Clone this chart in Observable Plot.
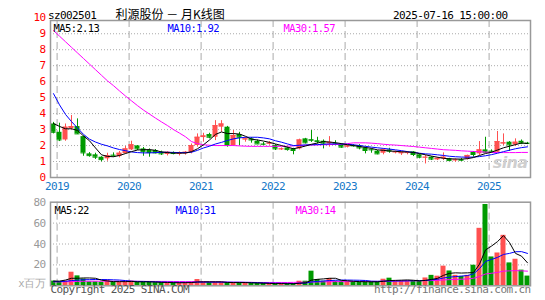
<!DOCTYPE html>
<html><head><meta charset="utf-8">
<script src="https://cdn.jsdelivr.net/npm/d3@7"></script>
<script src="https://cdn.jsdelivr.net/npm/@observablehq/plot@0.6"></script>
<style>
body{margin:0;background:#fff;}
#wrap{position:relative;width:545px;height:300px;overflow:hidden;background:#fff;}
#main,#vol{position:absolute;left:0;}
#main{top:0}
#vol{top:192px}
</style></head><body><div id="wrap"><div id="main"></div><div id="vol"></div></div>
<script>
// ---- data (monthly, Dec 2018 .. Jul 2025) ----
const code = "sz002501";
const title = "利源股份 － 月K线图";
const stamp = "2025-07-16 15:00:00";
const months = d3.utcMonths(new Date(Date.UTC(2018, 11, 1)), new Date(Date.UTC(2025, 7, 1))).map(d3.utcFormat("%Y-%m"));
const open = [3.35,2.83,2.35,3.06,3.19,2.56,1.48,1.42,1.27,1.17,1.40,1.31,1.50,1.73,1.98,1.79,1.69,1.69,1.58,1.44,
  1.54,1.44,1.48,1.58,2.00,2.50,2.69,2.52,3.15,3.15,2.00,2.69,2.35,2.42,2.27,2.10,2.10,2.00,1.75,1.85,
  1.79,1.79,2.42,2.38,2.30,2.27,2.10,2.12,2.06,1.90,2.00,2.00,1.85,1.75,1.65,1.52,1.73,1.56,1.48,1.54,
  1.60,1.42,1.23,1.27,1.10,1.17,1.17,1.06,1.12,1.17,1.58,1.48,1.73,1.65,1.58,2.10,2.21,2.04,2.27,2.15];
const close = [2.83,2.35,3.15,3.19,2.73,1.54,1.37,1.27,1.12,1.37,1.35,1.52,1.79,2.05,1.79,1.62,1.56,1.54,1.48,1.58,
  1.50,1.54,1.58,2.00,2.52,2.60,2.52,3.25,3.35,2.00,2.63,2.52,2.42,2.35,2.10,2.08,2.15,1.79,1.79,1.75,
  1.69,2.35,2.17,2.33,2.25,2.15,2.20,2.08,1.90,1.98,1.98,1.85,1.69,1.73,1.48,1.73,1.65,1.60,1.58,1.56,
  1.44,1.27,1.27,1.15,1.20,1.27,1.06,1.10,1.08,1.38,1.44,1.73,1.58,1.60,2.25,2.17,2.04,2.21,2.15,2.13];
const high = [3.45,3.40,3.35,3.88,3.67,2.60,1.56,1.52,1.30,1.52,1.54,1.63,1.94,2.27,2.00,1.88,1.79,1.75,1.65,1.62,
  1.60,1.60,1.63,2.10,2.73,2.77,2.77,3.56,3.56,3.20,2.94,2.83,2.50,2.50,2.35,2.19,2.25,2.06,1.85,1.90,
  1.83,2.40,2.45,2.94,2.52,2.35,2.56,2.30,2.10,2.00,2.06,2.06,1.90,1.79,1.69,1.79,1.83,1.65,1.60,1.62,
  1.62,1.44,1.38,1.30,1.25,1.54,1.20,1.17,1.20,1.40,1.62,2.25,2.52,1.73,2.88,2.73,2.25,2.42,2.35,2.20];
const low = [2.73,2.25,2.27,2.98,2.69,1.33,1.27,1.13,0.98,1.02,1.27,1.23,1.46,1.69,1.69,1.33,1.27,1.48,1.38,1.35,
  1.42,1.35,1.40,1.48,1.90,2.21,2.42,2.31,2.83,1.90,1.98,2.00,2.21,2.15,2.08,2.00,2.02,1.69,1.69,1.65,
  1.42,1.73,2.10,2.20,2.10,1.79,1.90,2.05,1.83,1.85,1.90,1.73,1.48,1.52,1.42,1.42,1.52,1.48,1.38,1.42,
  1.31,1.17,0.85,1.06,1.06,1.06,1.02,0.96,1.00,1.10,1.27,1.38,1.52,1.54,1.56,2.00,1.63,1.94,2.06,2.06];
const ma5 = [3.38,3.20,3.05,3.05,2.95,2.60,2.30,1.85,1.42,1.32,1.30,1.38,1.50,1.62,1.72,1.74,1.75,1.70,1.60,1.56,
  1.53,1.53,1.53,1.62,1.80,2.05,2.35,2.70,2.85,2.75,2.75,2.72,2.58,2.40,2.35,2.28,2.20,2.10,2.00,1.90,
  1.80,1.88,1.97,2.08,2.16,2.25,2.22,2.18,2.12,2.05,2.00,1.94,1.88,1.82,1.73,1.70,1.66,1.64,1.61,1.60,
  1.57,1.50,1.42,1.34,1.27,1.20,1.17,1.16,1.15,1.18,1.25,1.38,1.50,1.58,1.72,1.86,1.96,2.06,2.16,2.13];
const ma10 = [5.25,4.55,3.95,3.50,3.10,2.70,2.40,2.22,2.08,1.98,1.85,1.75,1.68,1.60,1.56,1.54,1.54,1.56,1.58,1.58,
  1.57,1.56,1.56,1.58,1.70,1.85,1.96,2.10,2.20,2.32,2.42,2.48,2.52,2.52,2.52,2.48,2.42,2.30,2.21,2.10,
  2.00,2.02,2.04,2.05,2.06,2.08,2.10,2.10,2.10,2.08,2.05,2.00,1.95,1.90,1.86,1.82,1.78,1.73,1.68,1.62,
  1.57,1.52,1.48,1.46,1.42,1.38,1.33,1.30,1.28,1.27,1.28,1.31,1.36,1.43,1.52,1.62,1.71,1.80,1.87,1.92];
const ma30 = [9.20,8.85,8.50,8.15,7.80,7.45,7.10,6.75,6.40,6.05,5.75,5.42,5.10,4.80,4.50,4.22,3.97,3.72,3.48,3.25,
  3.00,2.78,2.55,2.25,2.12,2.05,2.02,2.00,2.00,2.00,2.00,1.98,1.96,1.95,1.95,1.95,1.95,1.95,1.95,1.96,
  1.98,2.00,2.02,2.03,2.04,2.05,2.06,2.07,2.08,2.12,2.17,2.17,2.17,2.15,2.12,2.08,2.05,2.03,2.00,1.97,
  1.94,1.90,1.86,1.82,1.78,1.74,1.72,1.70,1.67,1.65,1.63,1.61,1.59,1.57,1.56,1.56,1.56,1.56,1.57,1.57];
const volume = [4.5,3.5,4.5,13,9.5,6.5,3.8,3.8,3.5,5.5,3.5,3.5,3.8,4.5,3.5,3.5,3.5,3.0,3.0,2.8,
  2.8,3.0,3.2,3.5,6.0,3.5,3.0,3.2,3.2,3.0,3.0,3.0,3.0,2.2,2.2,2.2,2.0,2.0,2.0,2.0,
  2.2,4.4,4.4,14,6.0,4.4,7.0,4.4,4.4,3.8,3.8,3.8,3.8,3.8,3.8,6.3,7.3,4.8,4.8,4.8,
  4.4,4.4,7.5,10,9.2,18.8,14.2,10,9.0,10,19.7,55,77.8,27.6,31.4,48.3,21.9,25.4,15,9.3];
const vma5 = [4.5,4.5,5.5,7.2,7.2,7.5,7.5,7.2,5.4,4.6,4.0,4.0,4.0,4.2,3.8,3.8,3.8,3.6,3.3,3.2,
  3.0,2.9,3.0,3.1,3.7,3.8,3.8,3.8,3.8,3.2,3.1,3.1,3.1,2.8,2.7,2.5,2.3,2.1,2.1,2.0,
  2.0,2.5,2.9,5.4,6.2,6.6,7.2,7.2,5.2,4.8,4.3,4.0,3.9,3.8,3.8,4.3,5.0,5.2,5.4,5.6,
  5.3,4.7,5.2,6.1,7.1,10,11.9,12.4,12.2,12.4,12.6,20.7,34.3,38,42.3,48,41.4,31,28.4,22];
const vma10 = [4.0,4.0,4.3,5.0,5.4,5.8,5.9,6.0,6.0,5.9,5.7,5.5,5.0,4.4,4.2,4.2,4.0,3.8,3.6,3.5,
  3.4,3.3,3.3,3.3,3.5,3.5,3.5,3.5,3.5,3.5,3.4,3.4,3.3,3.2,3.0,2.8,2.6,2.5,2.4,2.3,
  2.2,2.4,2.6,3.7,4.2,4.6,5.0,5.3,5.5,5.5,5.4,5.3,5.1,4.4,4.3,4.5,4.5,4.6,4.6,4.7,
  4.9,5.0,5.1,5.7,6.2,7.5,8.3,8.8,9.3,9.8,11.4,16.4,23.3,25.2,27.2,30.0,31.0,32.6,32.7,31];
const vma30 = [3.8,3.8,3.9,4.0,4.2,4.3,4.4,4.4,4.4,4.4,4.4,4.4,4.4,4.3,4.3,4.2,4.2,4.2,4.2,4.2,
  4.1,4.1,4.0,4.0,4.0,3.9,3.9,3.8,3.6,3.5,3.4,3.4,3.3,3.3,3.2,3.2,3.2,3.2,3.2,3.2,
  3.3,3.4,3.4,3.6,3.7,3.8,3.9,4.0,4.0,4.0,4.1,4.1,4.1,4.2,4.2,4.3,4.4,4.5,4.6,4.7,
  4.8,4.8,4.9,5.0,5.2,5.6,5.9,6.1,6.3,6.6,7.2,8.9,11.3,12.0,12.8,14.0,14.3,14.5,14.3,14];
const priceTicks = [0,1,2,3,4,5,6,7,8,9,10];
const volTicks = [20,40,60,80];
const priceLegend = ["MA5:2.13","MA10:1.92","MA30:1.57"];
const volLegend = ["MA5:22","MA10:31","MA30:14"];
const volUnit = "x百万";
const copyright = "Copyright 2025 SINA.COM";
const site = "http://finance.sina.com.cn";

// ---- build ----
const RED = "#ff5050", GREEN = "#009a00", BLUE = "#0000ff", MAG = "#ff00ff";
const rows = months.map((m, i) => ({m, o: open[i], c: close[i], h: high[i], l: low[i],
  ma5: ma5[i], ma10: ma10[i], ma30: ma30[i], v: volume[i], vma5: vma5[i], vma10: vma10[i], vma30: vma30[i]}));
const col = d => d.c >= d.o ? RED : GREEN;
const jan = months.filter(m => m.endsWith("-01"));
const MONO = "DejaVu Sans Mono";
const baseStyle = {fontFamily: MONO, fontSize: "10.5px", letterSpacing: "-0.6px", background: "transparent", overflow: "visible"};
const GRID = "#aaa";

const main = Plot.plot({
  width: 545, height: 192,
  marginLeft: 50, marginRight: 15, marginTop: 20, marginBottom: 15,
  style: baseStyle,
  x: {type: "band", domain: months, paddingInner: 0, paddingOuter: 0, axis: null},
  y: {domain: [0, 9.83], axis: null},
  color: {type: "identity"},
  marks: [
    Plot.ruleY(d3.range(1, 10), {stroke: GRID, strokeDasharray: "1,2"}),
    Plot.ruleX(jan, {x: d => d, dx: -2.4, stroke: GRID, strokeDasharray: "7,4"}),
    Plot.ruleX(rows, {x: "m", y1: "l", y2: "h", stroke: col}),
    Plot.barY(rows, {x: "m", y1: "o", y2: "c", fill: col, insetLeft: 0.5, insetRight: 0.5}),
    Plot.tickY(rows, {x: "m", y: "c", stroke: col, insetLeft: 0.5, insetRight: 0.5}),
    Plot.text(["sina"], {frameAnchor: "bottom-right", dx: -3, dy: -10, textAnchor: "end", fontFamily: "DejaVu Sans", fontWeight: "bold", fontStyle: "italic", fontSize: 16, fill: "#cfcfcf"}),
    Plot.lineY(rows, {x: "m", y: "ma30", stroke: MAG, strokeWidth: 1}),
    Plot.lineY(rows, {x: "m", y: "ma10", stroke: BLUE, strokeWidth: 1}),
    Plot.lineY(rows, {x: "m", y: "ma5", stroke: "#000", strokeWidth: 1}),
    Plot.frame({stroke: "#999", strokeWidth: 1.5}),
    Plot.axisY(priceTicks, {tickSize: 0, tickPadding: 5, fill: "#f00", fontSize: 11}),
    Plot.text(jan, {x: d => d, y: 0, dx: -2.4, dy: 9, text: d => d.slice(0, 4), fill: "#1478c8", fontSize: 11}),
    Plot.text([priceLegend[0]], {frameAnchor: "top-left", dx: 3, dy: 4, textAnchor: "start", fill: "#000"}),
    Plot.text([priceLegend[1]], {frameAnchor: "top-left", dx: 117, dy: 4, textAnchor: "start", fill: BLUE}),
    Plot.text([priceLegend[2]], {frameAnchor: "top-left", dx: 233, dy: 4, textAnchor: "start", fill: MAG}),
    Plot.text([code], {frameAnchor: "top-left", dx: -2.5, dy: -9, textAnchor: "start", fill: "#000", fontSize: 11}),
    Plot.text([title], {frameAnchor: "top-left", dx: 65, dy: -10, textAnchor: "start", fill: "#000", fontSize: 12, fontFamily: "Noto Sans CJK SC"}),
    Plot.text([stamp], {frameAnchor: "top-right", dx: -23, dy: -9, textAnchor: "end", fill: "#000", fontSize: 11})
  ]
});
document.getElementById("main").appendChild(main);

const vol = Plot.plot({
  width: 545, height: 108,
  marginLeft: 50, marginRight: 15, marginTop: 9.7, marginBottom: 14.7,
  style: baseStyle,
  x: {type: "band", domain: months, paddingInner: 0, paddingOuter: 0, axis: null},
  y: {domain: [0, 80], axis: null},
  color: {type: "identity"},
  marks: [
    Plot.ruleY([20, 40, 60], {stroke: GRID, strokeDasharray: "1,2"}),
    Plot.ruleX(jan, {x: d => d, dx: -2.4, stroke: GRID, strokeDasharray: "7,4"}),
    Plot.barY(rows, {x: "m", y: "v", fill: col, insetLeft: 0.5, insetRight: 0.5}),
    Plot.lineY(rows, {x: "m", y: "vma30", stroke: MAG, strokeWidth: 1}),
    Plot.lineY(rows, {x: "m", y: "vma10", stroke: BLUE, strokeWidth: 1}),
    Plot.lineY(rows, {x: "m", y: "vma5", stroke: "#000", strokeWidth: 1}),
    Plot.frame({stroke: "#999", strokeWidth: 1.5}),
    Plot.axisY(volTicks, {tickSize: 0, tickPadding: 5, fill: "#999", fontSize: 11}),
    Plot.text([volUnit], {frameAnchor: "bottom-left", dx: -4, dy: 1, textAnchor: "end", fill: "#aaa", fontSize: 10.5}),
    Plot.text([volLegend[0]], {frameAnchor: "top-left", dx: 4, dy: 4.5, textAnchor: "start", fill: "#000"}),
    Plot.text([volLegend[1]], {frameAnchor: "top-left", dx: 125, dy: 4.5, textAnchor: "start", fill: BLUE}),
    Plot.text([volLegend[2]], {frameAnchor: "top-left", dx: 245, dy: 4.5, textAnchor: "start", fill: MAG}),
    Plot.text([copyright], {frameAnchor: "bottom-left", dx: 0, dy: 7, textAnchor: "start", fill: "#555", fontSize: 11}),
    Plot.text([site], {frameAnchor: "bottom-right", dx: 0, dy: 7, textAnchor: "end", fill: "#777", fontSize: 11})
  ]
});
document.getElementById("vol").appendChild(vol);

// CJK text should not be squeezed
d3.selectAll("svg text").filter(function() { return /[\u4e00-\u9fff]/.test(this.textContent); })
  .style("letter-spacing", "0px");
</script></body></html>
